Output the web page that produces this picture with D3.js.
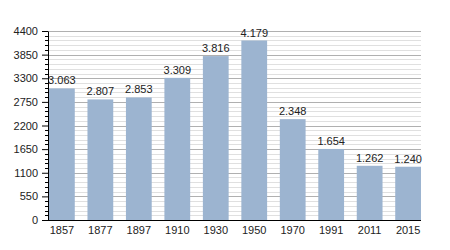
<!DOCTYPE html>
<html>
<head>
<meta charset="utf-8">
<script src="https://cdn.jsdelivr.net/npm/d3@7"></script>
<style>
  body { margin: 0; background: #fff; }
  text { font-family: "Liberation Sans", Arial, sans-serif; }
</style>
</head>
<body>
<div id="chart"></div>
<script>
var years = ["1857", "1877", "1897", "1910", "1930", "1950", "1970", "1991", "2011", "2015"];
var population = [3063, 2807, 2853, 3309, 3816, 4179, 2348, 1654, 1262, 1240];
var valueLabels = ["3.063", "2.807", "2.853", "3.309", "3.816", "4.179", "2.348", "1.654", "1.262", "1.240"];
var yTicks = [0, 550, 1100, 1650, 2200, 2750, 3300, 3850, 4400];

var margin = {top: 31, right: 29, bottom: 30, left: 48},
    width = 450 - margin.left - margin.right,
    height = 250 - margin.top - margin.bottom;

var svg = d3.select("#chart").append("svg")
    .attr("width", 450)
    .attr("height", 250)
  .append("g")
    .attr("transform", "translate(" + margin.left + "," + margin.top + ")");

var x = d3.scaleBand().domain(years).range([1, width]).paddingInner(0.33).paddingOuter(0);
var y = d3.scaleLinear().domain([0, 4400]).range([height, 0]);

// minor grid every 110
var minor = d3.range(110, 4400, 110).filter(function(v) { return v % 550 !== 0; });
svg.selectAll(".minor").data(minor).enter().append("line")
    .attr("x1", 0).attr("x2", width)
    .attr("y1", function(d) { return Math.round(y(d)) + 0.5; })
    .attr("y2", function(d) { return Math.round(y(d)) + 0.5; })
    .attr("stroke", "#e0e0e0");

// major grid
svg.selectAll(".major").data(yTicks.slice(1)).enter().append("line")
    .attr("x1", 0).attr("x2", width)
    .attr("y1", function(d) { return Math.round(y(d)) + 0.5; })
    .attr("y2", function(d) { return Math.round(y(d)) + 0.5; })
    .attr("stroke", "#b0b0b0");

// bars
svg.selectAll(".bar").data(population).enter().append("rect")
    .attr("x", function(d, i) { return x(years[i]); })
    .attr("y", function(d) { return y(d); })
    .attr("width", x.bandwidth())
    .attr("height", function(d) { return height - y(d); })
    .attr("fill", "#9cb4d0");

svg.selectAll(".lbl").data(population).enter().append("text")
    .attr("x", function(d, i) { return x(years[i]) + x.bandwidth() / 2; })
    .attr("y", function(d) { return y(d) - 4; })
    .attr("text-anchor", "middle")
    .attr("font-size", "11px")
    .attr("fill", "#222")
    .text(function(d, i) { return valueLabels[i]; });

// y axis minor ticks
svg.selectAll(".mt").data(minor).enter().append("line")
    .attr("x1", -3).attr("x2", 0)
    .attr("y1", function(d) { return Math.round(y(d)) + 0.5; })
    .attr("y2", function(d) { return Math.round(y(d)) + 0.5; })
    .attr("stroke", "#000");

var yAxis = svg.append("g")
    .call(d3.axisLeft(y).tickValues(yTicks).tickFormat(d3.format("d"))
      .tickSize(6).tickSizeOuter(0).tickPadding(4));
yAxis.select(".domain").attr("stroke", "#000");
yAxis.selectAll("text").attr("font-size", "11px").attr("fill", "#222")
    .style("font-family", "'Liberation Sans', Arial, sans-serif");

var xAxis = svg.append("g")
    .attr("transform", "translate(0," + height + ")")
    .call(d3.axisBottom(x).tickSize(0).tickPadding(6));
xAxis.select(".domain").attr("stroke", "#000").attr("d", "M0,0.5H" + width);
xAxis.selectAll("text").attr("font-size", "11px").attr("fill", "#222")
    .style("font-family", "'Liberation Sans', Arial, sans-serif");
</script>
</body>
</html>
